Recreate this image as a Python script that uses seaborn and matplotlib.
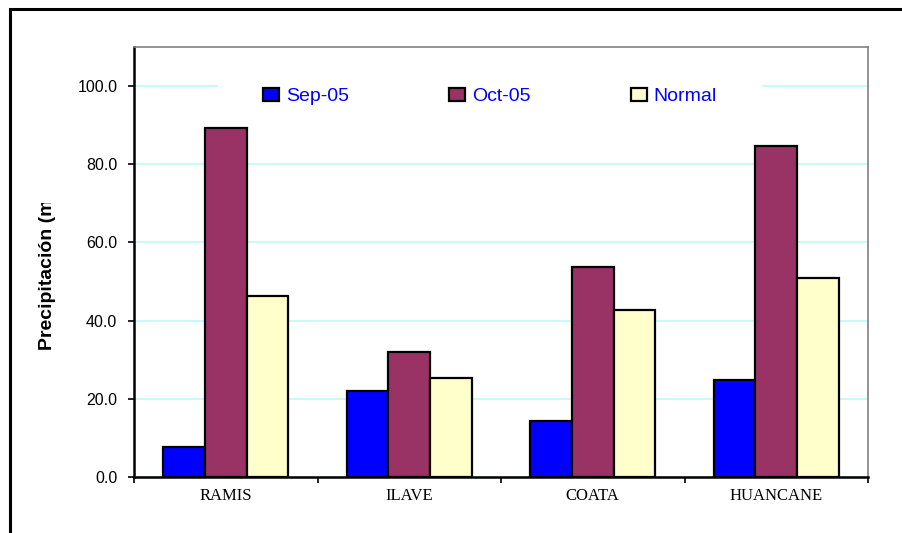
import pandas as pd
import matplotlib
matplotlib.use("Agg")
import matplotlib.pyplot as plt
import matplotlib.patches as mpatches
from matplotlib.transforms import Bbox, TransformedBbox
import seaborn as sns

# --- datos ---
estaciones = ["RAMIS", "ILAVE", "COATA", "HUANCANE"]
series = ["Sep-05", "Oct-05", "Normal"]
sep_05 = [7.8, 22.0, 14.4, 24.7]
oct_05 = [89.4, 31.9, 53.8, 84.7]
normal = [46.2, 25.2, 42.6, 50.8]
colores = ["#0000FF", "#993366", "#FFFFCC"]
yticks = [0, 20, 40, 60, 80, 100]

df = pd.DataFrame({
    "estacion": estaciones * 3,
    "serie": [s for s in series for _ in estaciones],
    "pp": sep_05 + oct_05 + normal,
})

sns.set_theme(style="white")
plt.rcParams["font.family"] = ["Liberation Sans", "DejaVu Sans"]
plt.rcParams["text.color"] = "black"
plt.rcParams["xtick.color"] = "black"
plt.rcParams["ytick.color"] = "black"
plt.rcParams["axes.labelcolor"] = "black"

W, H = 903, 533
fig = plt.figure(figsize=(W / 100, H / 100), dpi=100)
ax = fig.add_axes([134 / W, 1 - 477 / H, (868 - 134) / W, (477 - 47) / H])

sns.barplot(data=df, x="estacion", y="pp", hue="serie", order=estaciones,
            hue_order=series, palette=colores, width=0.68, edgecolor="black",
            linewidth=1.6, saturation=1, ax=ax, zorder=3)

ax.set_ylim(0, 110)
ax.set_xlim(-0.5, 3.5)
ax.set_yticks(yticks)
ax.set_yticklabels([f"{v:.1f}" for v in yticks], fontsize=11.5)
ax.yaxis.grid(True, color="#C8FAFA", linewidth=1.4)
ax.set_axisbelow(True)
ax.tick_params(axis="y", direction="out", length=4, width=1.2, pad=8, left=True)

ax.set_xticks(range(len(estaciones)))
ax.set_xticklabels(estaciones, fontsize=12, family="Liberation Serif")
ax.set_xticks([i - 0.5 for i in range(len(estaciones) + 1)], minor=True)
ax.tick_params(axis="x", which="major", length=0, pad=8)
ax.tick_params(axis="x", which="minor", direction="out", length=4, width=1.2, bottom=True)
ax.set_xlabel("")

for s in ["left", "bottom"]:
    ax.spines[s].set_color("black")
    ax.spines[s].set_linewidth(1.8)
for s in ["top", "right"]:
    ax.spines[s].set_color("#808080")
    ax.spines[s].set_linewidth(1.2)

# etiqueta del eje y (recortada como en el original)
ax.set_ylabel("Precipitación (mm)", fontsize=14, fontweight="bold")
ax.yaxis.set_label_coords(56 / W, 1 - 262 / H, transform=fig.transFigure)
lab = ax.yaxis.label
lab.set_clip_box(TransformedBbox(Bbox([[0, 0], [1, 1 - 203 / H]]), fig.transFigure))
lab.set_clip_on(True)

# leyenda
ax.get_legend().remove()
handles = [mpatches.Patch(facecolor=c, edgecolor="black", linewidth=1.6) for c in colores]
leg = ax.legend(handles, series, ncol=3, loc="center", bbox_transform=fig.transFigure,
                bbox_to_anchor=(490 / W, 1 - 96.5 / H), fontsize=14,
                columnspacing=5.15, handletextpad=0.36, handlelength=0.82,
                handleheight=0.62, borderpad=2.3, frameon=True, fancybox=False)
leg.set_zorder(2)
leg.get_frame().set_facecolor("white")
leg.get_frame().set_edgecolor("none")
leg.get_frame().set_alpha(1)
for t in leg.get_texts():
    t.set_color("#0000FF")

# marco exterior
fig.patches.append(mpatches.Rectangle((10 / W, -0.1), 1.2, 1 - 9 / H + 0.1,
                                      transform=fig.transFigure, fill=False,
                                      edgecolor="black", linewidth=2.2, zorder=0))

fig.savefig("out.png", dpi=100)
